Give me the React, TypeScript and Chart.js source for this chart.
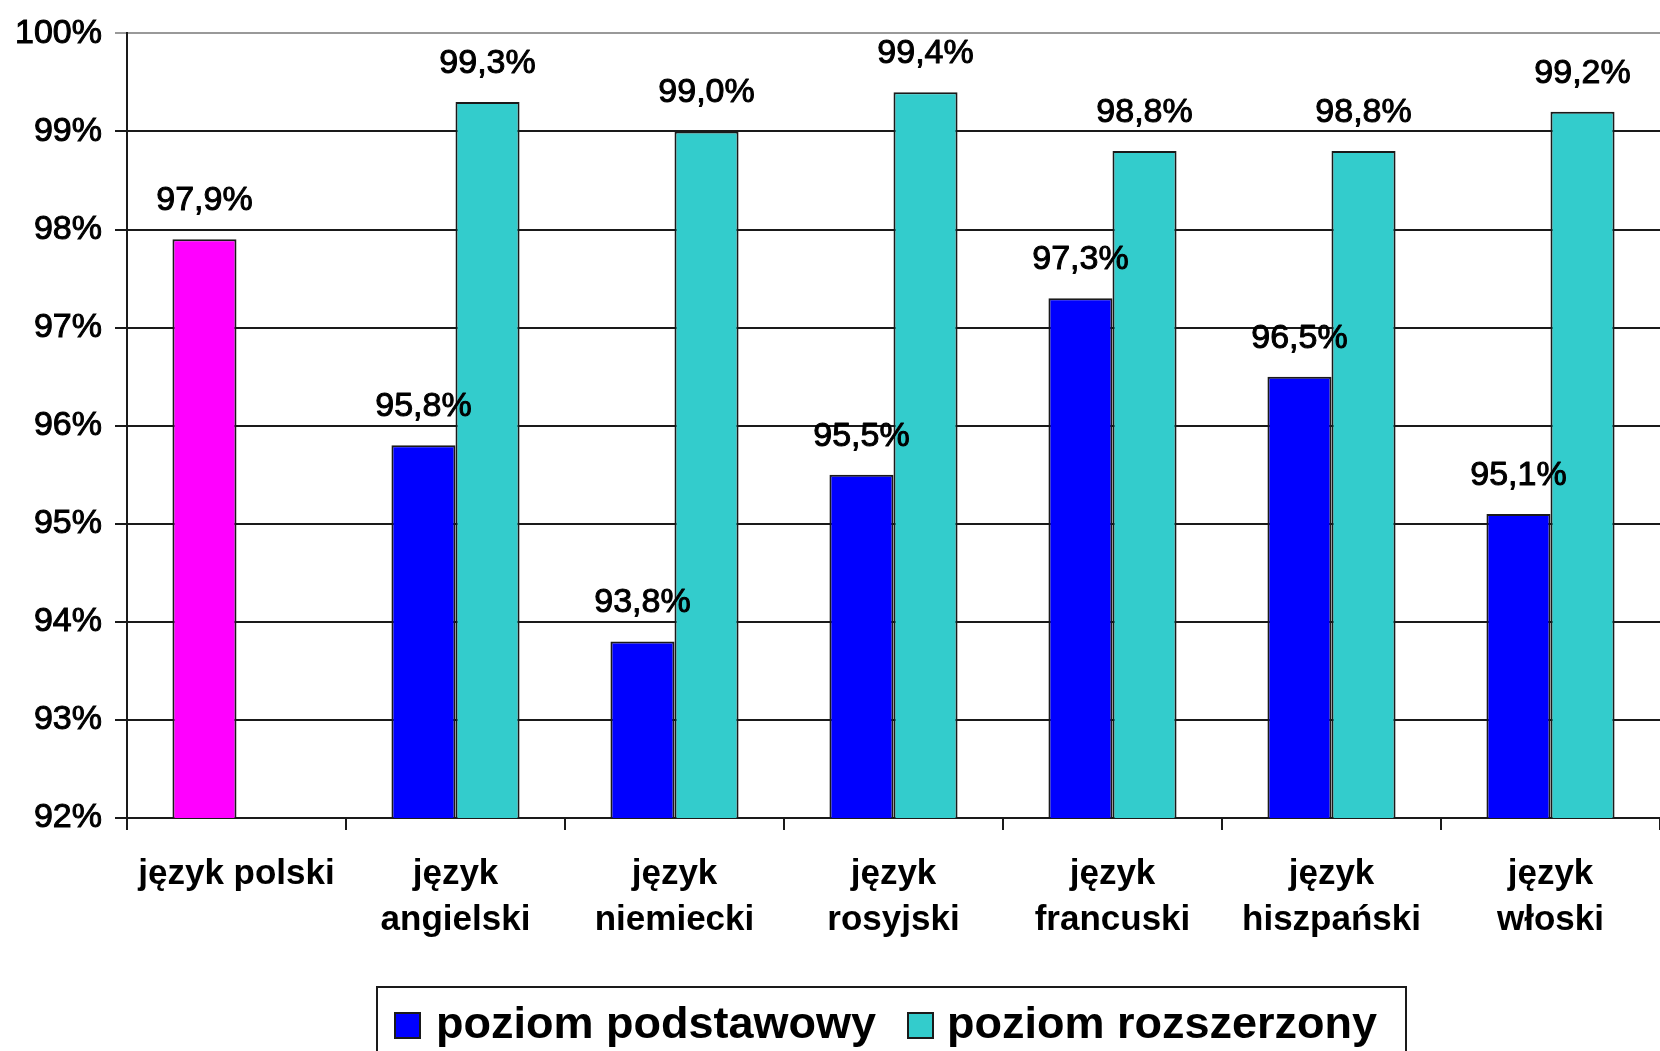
import React, { useEffect, useRef } from "react";
import { Chart, registerables } from "chart.js";

Chart.register(...registerables);

// ---- data ----
const categories: string[][] = [
  ["język polski"],
  ["język", "angielski"],
  ["język", "niemiecki"],
  ["język", "rosyjski"],
  ["język", "francuski"],
  ["język", "hiszpański"],
  ["język", "włoski"],
];
const seriesNames = ["poziom podstawowy", "poziom rozszerzony"];
const basicValues: (number | null)[] = [97.9, 95.8, 93.8, 95.5, 97.3, 96.5, 95.1];
const extendedValues: (number | null)[] = [null, 99.3, 99.0, 99.4, 98.8, 98.8, 99.2];
const yMin = 92;
const yMax = 100;
const yStep = 1;

// ---- styles ----
const BLUE = "#0000FF";
const TEAL = "#33CCCC";
const MAGENTA = "#FF00FF";
const DARK = "#1a1a1a";
const FONT = "'Liberation Sans', Arial, sans-serif";

const W = 1660;
const H = 1075;
const PLOT_TOP = 29;
const PLOT_BOTTOM = 818;

const fmt = (v: number) => v.toFixed(1).replace(".", ",") + "%";

const valueLabels = {
  id: "valueLabels",
  afterDatasetsDraw(chart: any) {
    const ctx = chart.ctx;
    ctx.save();
    ctx.font = `34px ${FONT}`;
    ctx.fillStyle = "#000";
    ctx.strokeStyle = "#000";
    ctx.lineWidth = 1;
    ctx.lineJoin = "round";
    ctx.textAlign = "center";
    ctx.textBaseline = "alphabetic";
    chart.data.datasets.forEach((ds: any, i: number) => {
      const meta = chart.getDatasetMeta(i);
      meta.data.forEach((el: any, j: number) => {
        const v = ds.data[j];
        if (v == null) return;
        ctx.fillText(fmt(v), el.x, el.y - 29);
        ctx.strokeText(fmt(v), el.x, el.y - 29);
      });
    });
    ctx.restore();
  },
};

const boxedLegend = {
  id: "boxedLegend",
  afterDraw(chart: any) {
    const ctx = chart.ctx;
    ctx.save();
    const left = 377;
    const right = 1406;
    const top = 987;
    ctx.strokeStyle = DARK;
    ctx.lineWidth = 2;
    ctx.strokeRect(left, top, right - left, H - top + 10);
    ctx.font = `bold 45px ${FONT}`;
    ctx.textAlign = "left";
    ctx.textBaseline = "alphabetic";
    const colors = [BLUE, TEAL];
    let x = 395;
    const sq = 25;
    const sqTop = 1013;
    const baseline = 1038;
    seriesNames.forEach((name, i) => {
      ctx.fillStyle = colors[i];
      ctx.fillRect(x, sqTop, sq, sq);
      ctx.lineWidth = 2;
      ctx.strokeStyle = DARK;
      ctx.strokeRect(x, sqTop, sq, sq);
      const tx = x + sq + (i === 0 ? 16 : 14);
      ctx.fillStyle = "#000";
      ctx.fillText(name, tx, baseline);
      x = tx + ctx.measureText(name).width + 32;
    });
    ctx.restore();
  },
};

export default function App() {
  const ref = useRef<HTMLCanvasElement | null>(null);

  useEffect(() => {
    if (!ref.current) return;
    Chart.defaults.font.family = FONT;
    const chart = new Chart(ref.current, {
      type: "bar",
      data: {
        labels: categories as any,
        datasets: [
          {
            label: seriesNames[0],
            data: basicValues as any,
            backgroundColor: (c: any) => (c.dataIndex === 0 ? MAGENTA : BLUE),
            borderColor: DARK,
            borderWidth: 2,
            categoryPercentage: 0.585,
            barPercentage: 1,
          },
          {
            label: seriesNames[1],
            data: extendedValues as any,
            backgroundColor: TEAL,
            borderColor: DARK,
            borderWidth: 2,
            categoryPercentage: 0.585,
            barPercentage: 1,
          },
        ],
      },
      options: {
        responsive: false,
        animation: false,
        devicePixelRatio: 1,
        layout: { padding: { top: PLOT_TOP, right: 0, bottom: 0, left: 0 } },
        plugins: {
          legend: { display: false },
          tooltip: { enabled: false },
        },
        scales: {
          x: {
            afterFit: (s: any) => {
              s.height = H - PLOT_BOTTOM;
            },
            grid: {
              display: true,
              drawOnChartArea: false,
              drawTicks: true,
              tickLength: 12,
              color: DARK,
              lineWidth: 2,
              offset: true,
            },
            border: { display: true, color: DARK, width: 2 },
            ticks: {
              color: "#000",
              font: { size: 35, weight: "bold", lineHeight: 1.3 },
              padding: 22,
              maxRotation: 0,
              autoSkip: false,
            },
          },
          y: {
            min: yMin,
            max: yMax,
            afterFit: (s: any) => {
              s.width = 127;
            },
            grid: {
              color: (c: any) => (c.tick && c.tick.value === yMax ? "#999" : DARK),
              lineWidth: 2,
              tickLength: 12,
              drawTicks: true,
            },
            border: { display: true, color: DARK, width: 2 },
            ticks: {
              stepSize: yStep,
              color: "#000",
              textStrokeColor: "#000",
              textStrokeWidth: 1,
              font: { size: 34 },
              padding: 13,
              callback: (v: any) => `${v}%`,
            },
          },
        },
      },
      plugins: [valueLabels, boxedLegend],
    } as any);
    return () => chart.destroy();
  }, []);

  return (
    <div
      style={{
        position: "fixed",
        top: 0,
        left: 0,
        width: W,
        height: 1051,
        overflow: "hidden",
        background: "#fff",
      }}
    >
      <canvas ref={ref} width={W} height={H} style={{ display: "block", width: W, height: H }} />
    </div>
  );
}
